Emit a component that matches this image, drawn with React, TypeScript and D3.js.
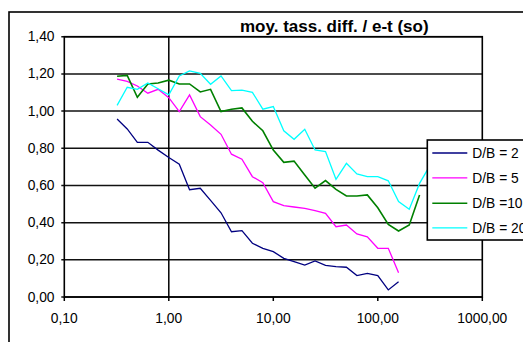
import React from "react";
import * as d3 from "d3";

const xValues = [0.32, 0.4, 0.5, 0.63, 0.79, 1.0, 1.26, 1.58, 2.0, 2.51, 3.16, 3.98, 5.01, 6.31, 7.94, 10.0, 12.6, 15.8, 20.0, 25.1, 31.6, 39.8, 50.1, 63.1, 79.4, 100, 126, 158, 200, 251, 316];

const seriesNames = ["D/B = 2", "D/B = 5", "D/B =10", "D/B = 20"];
const seriesColors = ["#000080", "#FF00FF", "#008000", "#00FFFF"];

const db2 = [0.957, 0.904, 0.832, 0.832, 0.79, 0.75, 0.714, 0.577, 0.585, 0.52, 0.453, 0.351, 0.357, 0.289, 0.262, 0.244, 0.208, 0.19, 0.172, 0.194, 0.17, 0.163, 0.16, 0.115, 0.127, 0.115, 0.038, 0.082];
const db5 = [1.172, 1.16, 1.135, 1.096, 1.117, 1.072, 0.997, 1.087, 0.97, 0.925, 0.875, 0.768, 0.741, 0.647, 0.615, 0.513, 0.491, 0.484, 0.477, 0.464, 0.45, 0.378, 0.387, 0.339, 0.324, 0.262, 0.262, 0.131];
const db10 = [1.187, 1.192, 1.074, 1.146, 1.151, 1.166, 1.146, 1.146, 1.103, 1.117, 0.997, 1.01, 1.017, 0.945, 0.894, 0.79, 0.724, 0.731, 0.656, 0.585, 0.626, 0.579, 0.543, 0.543, 0.549, 0.48, 0.39, 0.355, 0.387, 0.549];
const db20 = [1.031, 1.128, 1.117, 1.151, 1.12, 1.087, 1.189, 1.216, 1.203, 1.144, 1.189, 1.11, 1.113, 1.101, 1.01, 1.024, 0.894, 0.848, 0.902, 0.791, 0.782, 0.633, 0.719, 0.662, 0.647, 0.647, 0.625, 0.513, 0.472, 0.611, 0.708];

const seriesValues = [db2, db5, db10, db20];

const xTicks = [0.1, 1, 10, 100, 1000];
const xTickLabels = ["0,10", "1,00", "10,00", "100,00", "1000,00"];
const yTicks = [0, 0.2, 0.4, 0.6, 0.8, 1.0, 1.2, 1.4];
const yTickLabels = ["0,00", "0,20", "0,40", "0,60", "0,80", "1,00", "1,20", "1,40"];

const title = "moy. tass. diff. / e-t (so)";

export default function App() {
  const W = 523;
  const H = 342;
  const left = 64.3, right = 482.3, top = 36.7, bottom = 297;
  const x = d3.scaleLog().domain([0.1, 1000]).range([left, right]);
  const y = d3.scaleLinear().domain([0, 1.4]).range([bottom, top]);
  const font = "'Liberation Sans', Arial, sans-serif";

  const line = d3
    .line<[number, number]>()
    .x((d) => x(d[0]))
    .y((d) => y(d[1]));

  const legendX = 427.3, legendY = 140, legendH = 100;
  const legendRowY = [153, 177.8, 203.2, 227.8];

  return (
    <svg
      width={W}
      height={H}
      style={{ position: "absolute", left: 0, top: 0, display: "block", background: "#fff" }}
    >
      <rect x={0} y={0} width={W} height={H} fill="#fff" />
      {/* outer chart border */}
      <rect x={9} y={12} width={700} height={500} fill="#fff" stroke="#000" strokeWidth={1.6} />
      {/* title */}
      <text x={334.3} y={31.5} textAnchor="middle" fontFamily={font} fontWeight="bold" fontSize={17}>
        {title}
      </text>
      {/* plot area */}
      <rect x={left} y={top} width={right - left} height={bottom - top} fill="#fff" stroke="none" />
      {/* horizontal gridlines */}
      {yTicks.map((t, i) => (
        <g key={"y" + i}>
          <line x1={left - 3} x2={right} y1={y(t)} y2={y(t)} stroke="#111" strokeWidth={1.5} />
          <text
            x={54.5}
            y={y(t) + 4.5}
            textAnchor="end"
            fontFamily={font}
            fontSize={13.8}
            fill="#000"
          >
            {yTickLabels[i]}
          </text>
        </g>
      ))}
      {/* plot border */}
      <rect x={left} y={top} width={right - left} height={bottom - top} fill="none" stroke="#000" strokeWidth={1.6} />
      {/* value axis crossing at 1 */}
      <line x1={x(1)} x2={x(1)} y1={top} y2={bottom} stroke="#000" strokeWidth={1.5} />
      {/* x axis ticks and labels */}
      {xTicks.map((t, i) => (
        <g key={"x" + i}>
          <line x1={x(t)} x2={x(t)} y1={bottom} y2={bottom + 4} stroke="#000" strokeWidth={1.5} />
          <text x={x(t)} y={322.7} textAnchor="middle" fontFamily={font} fontSize={13.8} fill="#000">
            {xTickLabels[i]}
          </text>
        </g>
      ))}
      {/* series */}
      {seriesValues.map((vals, si) => (
        <path
          key={"s" + si}
          d={line(vals.map((v, k) => [xValues[k], v] as [number, number])) || ""}
          fill="none"
          stroke={seriesColors[si]}
          strokeWidth={si === 2 ? 1.6 : 1.3}
          strokeLinejoin="miter"
        />
      ))}
      {/* legend */}
      <rect x={legendX} y={legendY} width={200} height={legendH} fill="#fff" stroke="#000" strokeWidth={1.6} />
      {seriesNames.map((name, i) => (
        <g key={"l" + i}>
          <line
            x1={432.3}
            x2={467.3}
            y1={legendRowY[i]}
            y2={legendRowY[i]}
            stroke={seriesColors[i]}
            strokeWidth={i === 2 ? 1.6 : 1.3}
          />
          <text x={472.3} y={legendRowY[i] + 5} fontFamily={font} fontSize={13.8} fill="#000">
            {name}
          </text>
        </g>
      ))}
    </svg>
  );
}
